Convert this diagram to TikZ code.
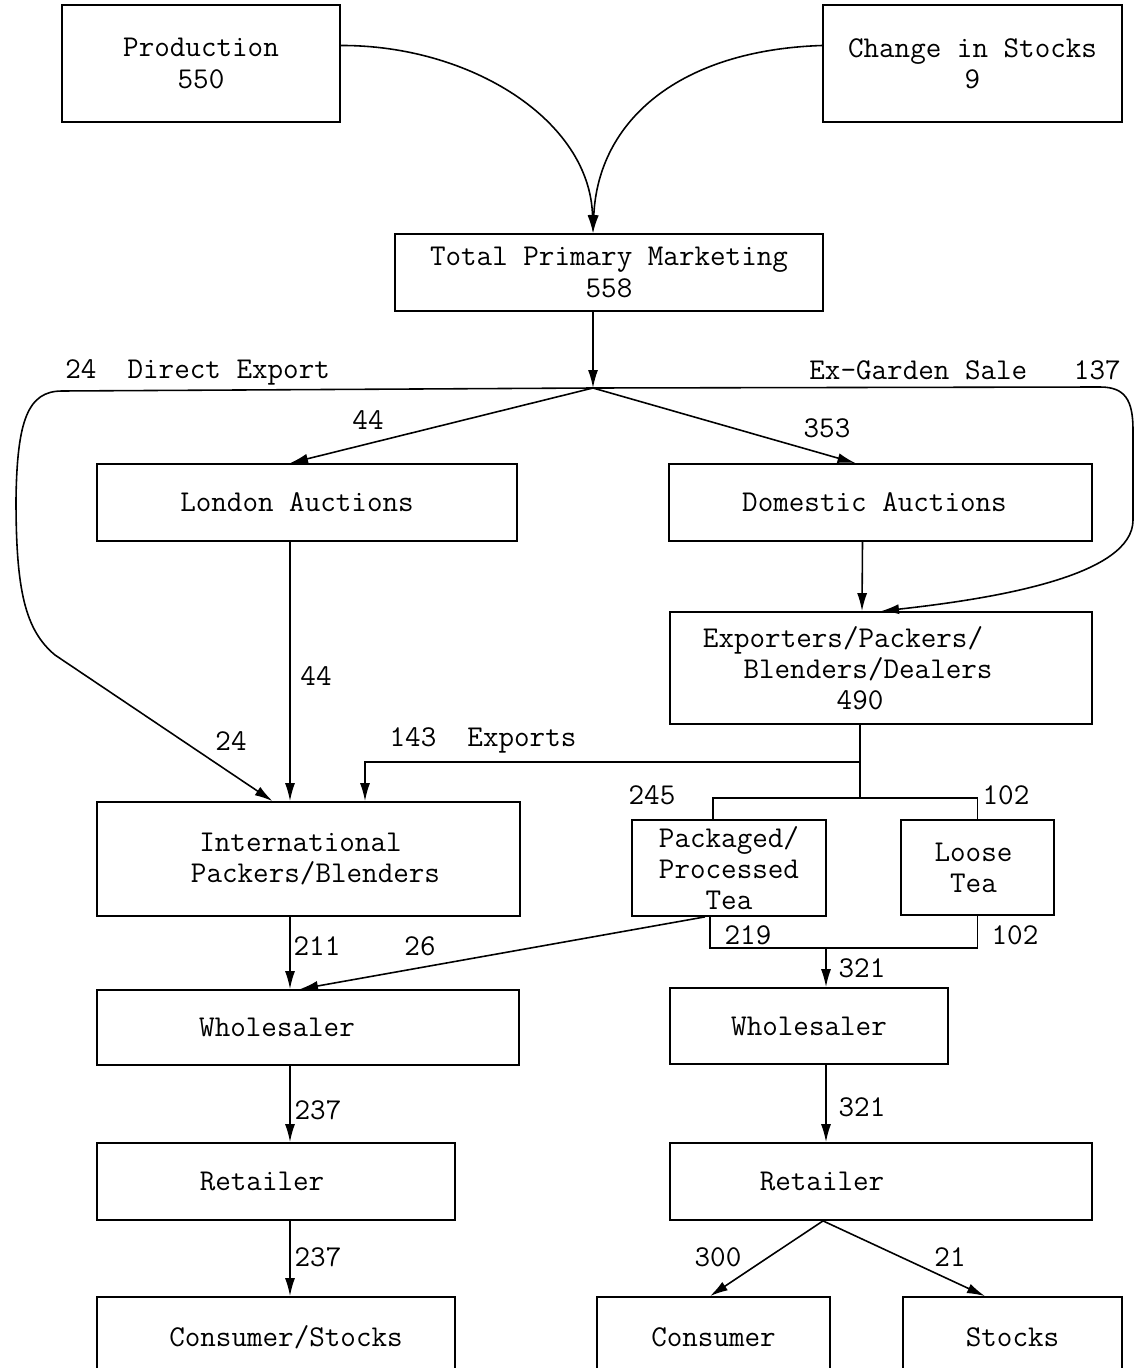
\documentclass[tikz,border=0pt]{standalone}
\usepackage{fontspec}
\usetikzlibrary{arrows.meta,calc}
\newcommand{\tfont}{\ttfamily\fontsize{17.2pt}{17.8pt}\selectfont}
\newcommand{\shiftt}[2]{\kern#1\relax #2\kern-#1\relax}
\newcommand{\mkbox}[6]{\node[bx,minimum width={(#4-#2)*0.02cm},minimum height={(#5-#3)*0.02cm}] (#1) at ({(#2+#4)/2},{(#3+#5)/2}) {#6};}
\begin{document}
\begin{tikzpicture}[x=0.02cm,y=-0.02cm,
  bx/.style={draw,line width=1pt,inner sep=0pt,align=center,font=\tfont},
  lb/.style={inner sep=0pt,font=\tfont},
  ln/.style={line width=0.9pt},
  arr/.style={ln,-{Latex[length=3.6mm,width=2mm]}}]
\useasboundingbox (0,0) rectangle (1133,1368);
% boxes
\mkbox{prod}{62}{5}{340}{122}{Production\\550}
\mkbox{chg}{823}{5}{1122}{122}{Change in Stocks\\9}
\mkbox{tpm}{395}{234}{823}{311}{Total Primary Marketing\\558}
\mkbox{lon}{97}{464}{517}{541}{\shiftt{-0.2cm}{London Auctions}}
\mkbox{dom}{669}{464}{1092}{541}{\shiftt{-0.12cm}{Domestic Auctions}}
\mkbox{exp}{670}{612}{1092}{724}{\shiftt{-0.76cm}{Exporters/Packers/}\\\shiftt{-0.26cm}{Blenders/Dealers}\\\shiftt{-0.42cm}{490}}
\mkbox{intl}{97}{802}{520}{916}{\shiftt{-0.16cm}{International}\\\shiftt{0.14cm}{Packers/Blenders}}
\mkbox{pkg}{632}{820}{826}{916}{Packaged/\\Processed\\Tea}
\mkbox{loose}{901}{820}{1054}{915}{\shiftt{-0.08cm}{Loose}\\\shiftt{-0.08cm}{Tea}}
\mkbox{whl}{97}{990}{519}{1065}{\shiftt{-0.62cm}{Wholesaler}}
\mkbox{whr}{670}{988}{948}{1064}{Wholesaler}
\mkbox{retl}{97}{1143}{455}{1220}{\shiftt{-0.28cm}{Retailer}}
\mkbox{retr}{670}{1143}{1092}{1220}{\shiftt{-1.18cm}{Retailer}}
\mkbox{cs}{97}{1297}{455}{1378}{\shiftt{0.2cm}{Consumer/Stocks}}
\mkbox{con}{597}{1297}{830}{1378}{Consumer}
\mkbox{stk}{903}{1297}{1122}{1378}{Stocks}
% junctions
\coordinate (J) at (593,388);
\coordinate (B1) at (860,798);
\coordinate (E1) at (860,762);
\coordinate (B2) at (826,948);
% connectors
\draw[arr] ($(prod.east)+(0,-18)$) .. controls (470,45) and (590,120) .. ($(tpm.north)+(-16,0)$);
\draw[arr] ($(chg.west)+(0,-18)$) .. controls (680,50) and (598,120) .. ($(tpm.north)+(-16,0)$);
\draw[arr] ($(tpm.south)+(-16,0)$) -- (J);
\draw[arr] (J) -- ($(lon.north)+(-17,0)$);
\draw[arr] (J) -- ($(dom.north)+(-25,0)$);
\draw[arr] (J) -- (62,391) .. controls (28,391) and (17,420) .. (16,500)
   .. controls (16,590) and (25,630) .. (55,655) -- ($(intl.north)+(-36,0)$);
\draw[arr] (J) -- (1100,387) .. controls (1125,387) and (1133,400) .. (1133,430)
   -- (1133,520) .. controls (1133,575) and (1000,598) .. (exp.north);
\draw[arr] ($(dom.south)+(-18,0)$) -- ($(exp.north)+(-19,0)$);
\draw[arr] ($(lon.south)+(-17,0)$) -- ($(intl.north)+(-18.5,0)$);
\draw[ln] ($(exp.south)+(-21,0)$) -- (B1);
\draw[arr] (E1) -| ($(intl.north)+(56.5,0)$);
\draw[ln] ($(pkg.north)+(-16,0)$) |- (B1) -| (loose.north);
\draw[ln] ($(pkg.south)+(-19,0)$) |- (B2) -| (loose.south);
\draw[arr] (B2) -- ($(whr.north)+(17,0)$);
\draw[arr] ($(pkg.south)+(-24,0)$) -- ($(whl.north)+(-8,0)$);
\draw[arr] ($(intl.south)+(-18.5,0)$) -- ($(whl.north)+(-18,0)$);
\draw[arr] ($(whl.south)+(-18,0)$) -- ($(retl.north)+(14,0)$);
\draw[arr] ($(retl.south)+(14,0)$) -- ($(cs.north)+(14,0)$);
\draw[arr] ($(whr.south)+(17,0)$) -- ($(retr.north)+(-55,0)$);
\draw[arr] ($(retr.south)+(-58,0)$) -- ($(con.north)+(-3.5,0)$);
\draw[arr] ($(retr.south)+(-58,0)$) -- ($(stk.north)+(-27.5,0)$);
% labels
\node[lb,anchor=west] (ldx) at (65,372) {24~~Direct Export};
\node[lb,anchor=east] (lex) at (1121,370) {Ex-Garden Sale~~~137};
\node[lb] (l44a) at (368,420) {44};
\node[lb] (l353) at (827,428) {353};
\node[lb] (l44b) at (316,676) {44};
\node[lb] (l24) at (231,741) {24};
\node[lb] (lexp) at (483,740) {143~~Exports};
\node[lb] (l245) at (652,795) {245};
\node[lb] (l102a) at (1006,795) {102};
\node[lb] (l211) at (317,946) {211};
\node[lb] (l26) at (420,946) {26};
\node[lb] (l219) at (748,935) {219};
\node[lb] (l102b) at (1015,935) {102};
\node[lb] (l321a) at (862,968) {321};
\node[lb] (l237a) at (318,1110) {237};
\node[lb] (l321b) at (862,1107) {321};
\node[lb] (l237b) at (318,1257) {237};
\node[lb] (l300) at (718,1257) {300};
\node[lb] (l21) at (950,1257) {21};
\end{tikzpicture}
\end{document}
